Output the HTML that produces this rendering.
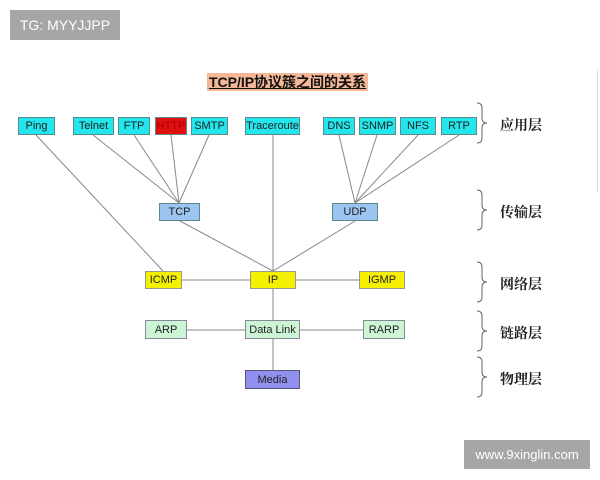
<!DOCTYPE html>
<html><head><meta charset="utf-8"><style>
body{margin:0;width:600px;height:480px;background:#fff;position:relative;overflow:hidden;font-family:"Liberation Sans","Noto Sans CJK SC",sans-serif}
.b{position:absolute;box-sizing:border-box;border:1px solid #5a8a8a;font-size:11px;display:flex;align-items:center;justify-content:center;color:#222}
.c{background:#22e6ec}
.l{position:absolute;font-family:"Noto Serif CJK SC",serif;font-size:14px;font-weight:bold;color:#222}
</style></head><body>
<div style="position:absolute;left:10px;top:10px;width:110px;height:30px;background:#a6a6a6;color:#fff;font-size:14px;display:flex;align-items:center;justify-content:center">TG: MYYJJPP</div>
<div style="position:absolute;left:464px;top:440px;width:126px;height:29px;background:#a6a6a6;color:#fff;font-size:13px;display:flex;align-items:center;justify-content:center">www.9xinglin.com</div>
<div style="position:absolute;left:597px;top:70px;width:1px;height:122px;background:#ddd"></div>
<div style="position:absolute;left:207px;top:73px;width:161px;height:18px;background:#f4b898;font-size:14px;font-weight:bold;text-decoration:underline;display:flex;align-items:center;justify-content:center;color:#111;font-family:'Liberation Sans','Noto Sans CJK SC',sans-serif">TCP/IP协议簇之间的关系</div>
<svg width="600" height="480" style="position:absolute;left:0;top:0" stroke="#888" stroke-width="1" fill="none">
<line x1="36" y1="135" x2="163" y2="271"/>
<line x1="93" y1="135" x2="179" y2="203"/>
<line x1="134" y1="135" x2="179" y2="203"/>
<line x1="171" y1="135" x2="179" y2="203"/>
<line x1="209" y1="135" x2="179" y2="203"/>
<line x1="180" y1="221" x2="273" y2="271"/>
<line x1="355" y1="221" x2="273" y2="271"/>
<line x1="273" y1="135" x2="273" y2="271"/>
<line x1="339" y1="135" x2="355" y2="203"/>
<line x1="377" y1="135" x2="355" y2="203"/>
<line x1="418" y1="135" x2="355" y2="203"/>
<line x1="459" y1="135" x2="355" y2="203"/>
<line x1="182" y1="280" x2="359" y2="280"/>
<line x1="273" y1="289" x2="273" y2="370"/>
<line x1="187" y1="330" x2="363" y2="330"/>
<g stroke="#666">
<path d="M477 103 q5 0 5 5 v10 q0 5 5 5 q-5 0 -5 5 v10 q0 5 -5 5"/>
<path d="M477 190 q5 0 5 5 v10 q0 5 5 5 q-5 0 -5 5 v10 q0 5 -5 5"/>
<path d="M477 262 q5 0 5 5 v10 q0 5 5 5 q-5 0 -5 5 v10 q0 5 -5 5"/>
<path d="M477 311 q5 0 5 5 v10 q0 5 5 5 q-5 0 -5 5 v10 q0 5 -5 5"/>
<path d="M477 357 q5 0 5 5 v10 q0 5 5 5 q-5 0 -5 5 v10 q0 5 -5 5"/>
</g>
</svg>
<div class="b c" style="left:18px;top:117px;width:37px;height:18px">Ping</div>
<div class="b c" style="left:73px;top:117px;width:41px;height:18px">Telnet</div>
<div class="b c" style="left:118px;top:117px;width:32px;height:18px">FTP</div>
<div class="b" style="left:155px;top:117px;width:32px;height:18px;background:#e01010;color:#a00">HTTP</div>
<div class="b c" style="left:191px;top:117px;width:37px;height:18px">SMTP</div>
<div class="b c" style="left:245px;top:117px;width:55px;height:18px">Traceroute</div>
<div class="b c" style="left:323px;top:117px;width:32px;height:18px">DNS</div>
<div class="b c" style="left:359px;top:117px;width:37px;height:18px">SNMP</div>
<div class="b c" style="left:400px;top:117px;width:36px;height:18px">NFS</div>
<div class="b c" style="left:441px;top:117px;width:36px;height:18px">RTP</div>
<div class="b" style="left:159px;top:203px;width:41px;height:18px;background:#9cc4f0">TCP</div>
<div class="b" style="left:332px;top:203px;width:46px;height:18px;background:#9cc4f0">UDP</div>
<div class="b" style="left:145px;top:271px;width:37px;height:18px;background:#f5f000;border-color:#998">ICMP</div>
<div class="b" style="left:250px;top:271px;width:46px;height:18px;background:#f5f000;border-color:#998">IP</div>
<div class="b" style="left:359px;top:271px;width:46px;height:18px;background:#f5f000;border-color:#998">IGMP</div>
<div class="b" style="left:145px;top:320px;width:42px;height:19px;background:#ccf5d6;border-color:#889">ARP</div>
<div class="b" style="left:245px;top:320px;width:55px;height:19px;background:#ccf5d6;border-color:#889">Data Link</div>
<div class="b" style="left:363px;top:320px;width:42px;height:19px;background:#ccf5d6;border-color:#889">RARP</div>
<div class="b" style="left:245px;top:370px;width:55px;height:19px;background:#9090ee;border-color:#557">Media</div>
<div class="l" style="left:500px;top:115px">应用层</div>
<div class="l" style="left:500px;top:202px">传输层</div>
<div class="l" style="left:500px;top:274px">网络层</div>
<div class="l" style="left:500px;top:323px">链路层</div>
<div class="l" style="left:500px;top:369px">物理层</div>
</body></html>
